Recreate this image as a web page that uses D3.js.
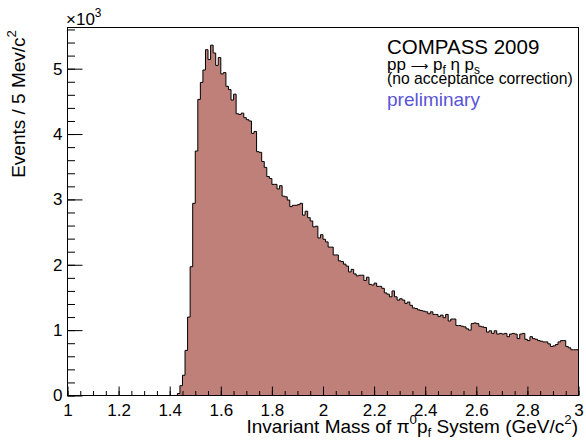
<!DOCTYPE html>
<html>
<head>
<meta charset="utf-8">
<script src="https://cdn.jsdelivr.net/npm/d3@7/dist/d3.min.js"></script>
<style>
body{margin:0;background:#fff;}
text{font-family:"Liberation Sans",Arial,Helvetica,sans-serif;fill:#000;}
</style>
</head>
<body>
<svg></svg>
<script>
// histogram: 10 MeV wide bins, first filled bin starts at 1.43 GeV
var firstBin = 1.43;
var binWidth = 0.01;
var counts = [
  30, 150, 310, 690, 1200, 1970, 2940, 3740, 4530, 4790,
  4980, 5290, 5140, 5360, 5240, 5050, 5170, 4920, 4940, 4730,
  4680, 4520, 4610, 4310, 4300, 4320, 4250, 4220, 4200, 4010,
  4040, 3730, 3720, 3580, 3490, 3350, 3320, 3230, 3230, 3160,
  3210, 3050, 3040, 2990, 2890, 2910, 2910, 2920, 2940, 2760,
  2820, 2720, 2670, 2580, 2590, 2410, 2460, 2390, 2350, 2270,
  2270, 2150, 2150, 2060, 2050, 2010, 1980, 1890, 1930, 1860,
  1830, 1840, 1840, 1760, 1810, 1700, 1690, 1720, 1670, 1670,
  1640, 1570, 1550, 1510, 1600, 1510, 1460, 1480, 1460, 1410,
  1430, 1380, 1340, 1330, 1310, 1300, 1290, 1280, 1250, 1280,
  1240, 1240, 1210, 1230, 1190, 1240, 1140, 1170, 1170, 1070,
  1070, 1060, 1050, 1020, 1000, 1100, 1110, 1100, 1060, 1050,
  1040, 970, 990, 950, 990, 940, 950, 940, 950, 900,
  940, 950, 940, 870, 940, 950, 860, 840, 900, 870,
  860, 840, 830, 820, 820, 790, 750, 760, 780, 820,
  840, 840, 750, 730, 700, 700, 700
];
var xTicks = [1, 1.2, 1.4, 1.6, 1.8, 2, 2.2, 2.4, 2.6, 2.8, 3];
var yTicks = [0, 1000, 2000, 3000, 4000, 5000];
var xDomain = [1, 3];
var yMax = 5630;

var svgwidth = 586;
var svgheight = 441;
var margins = {top:27.5, bottom:45.5, left:67.5, right:7.5};
var width = svgwidth - margins.left - margins.right;
var height = svgheight - margins.top - margins.bottom;

var svg = d3.select('svg').attr('width', svgwidth).attr('height', svgheight);

var xScale = d3.scaleLinear().domain(xDomain).range([0, width]);
var yScale = d3.scaleLinear().domain([0, yMax]).range([height, 0]);

var plot = svg.append('g')
  .attr('transform', 'translate(' + margins.left + ',' + margins.top + ')');

// step points of the histogram
var pts = [[firstBin, 0]];
counts.forEach(function(c, i){ pts.push([firstBin + i*binWidth, c]); });
pts.push([firstBin + counts.length*binWidth, counts[counts.length-1]]);

var area = d3.area()
  .x(function(d){ return xScale(d[0]); })
  .y0(yScale(0))
  .y1(function(d){ return yScale(d[1]); })
  .curve(d3.curveStepAfter);
var line = d3.line()
  .x(function(d){ return xScale(d[0]); })
  .y(function(d){ return yScale(d[1]); })
  .curve(d3.curveStepAfter);

plot.append('path').datum(pts).attr('d', area).attr('fill', 'rgb(190,128,120)');
plot.append('path').datum(pts).attr('d', line)
  .attr('fill', 'none').attr('stroke', '#000').attr('stroke-width', 1);

// axes (ticks inward, ROOT style)
var fmtY = function(d){ return d/1000; };
plot.append('g').attr('class', 'xminor')
  .attr('transform', 'translate(0,' + height + ')')
  .call(d3.axisBottom(xScale).tickValues(xScale.ticks(40)).tickSize(-4.5).tickFormat(''));
plot.append('g').attr('class', 'xmajor')
  .attr('transform', 'translate(0,' + height + ')')
  .call(d3.axisBottom(xScale).tickValues(xTicks).tickSize(-9).tickPadding(8)
    .tickFormat(function(d){ return d3.format('')(d); }));
plot.append('g').attr('class', 'yminor')
  .call(d3.axisLeft(yScale).tickValues(yScale.ticks(25)).tickSize(-7.5).tickFormat(''));
plot.append('g').attr('class', 'ymajor')
  .call(d3.axisLeft(yScale).tickValues(yTicks).tickSize(-15).tickPadding(5).tickFormat(fmtY));

plot.selectAll('.domain').remove();
plot.selectAll('.tick line').attr('stroke', '#000');
plot.selectAll('.tick text').attr('font-size', 17)
  .attr('font-family', '"Liberation Sans",Arial,sans-serif').attr('fill', '#000');

plot.append('rect').attr('x', 0).attr('y', 0).attr('width', width).attr('height', height)
  .attr('fill', 'none').attr('stroke', '#000').attr('stroke-width', 1);

// rich text helper with sub/superscripts
function rich(sel, parts, size){
  var shift = 0;
  parts.forEach(function(p){
    var s = p[1] === 'sup' ? -0.45*size : p[1] === 'sub' ? 0.22*size : 0;
    var t = sel.append('tspan').text(p[0]).attr('dy', s - shift);
    if (p[1] === 'sup' || p[1] === 'sub') t.attr('font-size', size*0.7);
    if (p[1] === 'arrow') t.attr('font-family', '"DejaVu Sans",sans-serif').attr('font-size', size*0.72);
    shift = s;
  });
}

var ex = svg.append('text').attr('x', 66).attr('y', 25).attr('font-size', 17);
rich(ex, [['\u00d710', null], ['3', 'sup']], 17);

var yt = svg.append('text').attr('text-anchor', 'end').attr('font-size', 19)
  .attr('transform', 'translate(25,30) rotate(-90)');
rich(yt, [['Events / 5 Mev/c', null], ['2', 'sup']], 19);

var xt = svg.append('text').attr('text-anchor', 'end').attr('font-size', 19)
  .attr('x', 578).attr('y', 433);
rich(xt, [['Invariant Mass of \u03c0', null], ['0', 'sup'], ['p', null], ['f', 'sub'],
  [' System (GeV/c', null], ['2', 'sup'], [')', null]], 19);

svg.append('text').attr('x', 387).attr('y', 54).attr('font-size', 20.5).text('COMPASS 2009');
var rx = svg.append('text').attr('x', 387).attr('y', 70).attr('font-size', 17);
rich(rx, [['pp ', null], ['\u27f6', 'arrow'], [' p', null], ['f', 'sub'], [' \u03b7 p', null], ['s', 'sub']], 17);
svg.append('text').attr('x', 387).attr('y', 84).attr('font-size', 15.7).text('(no acceptance correction)');
svg.append('text').attr('x', 387).attr('y', 106).attr('font-size', 19)
  .style('fill', '#5954d8').text('preliminary');
</script>
</body>
</html>
